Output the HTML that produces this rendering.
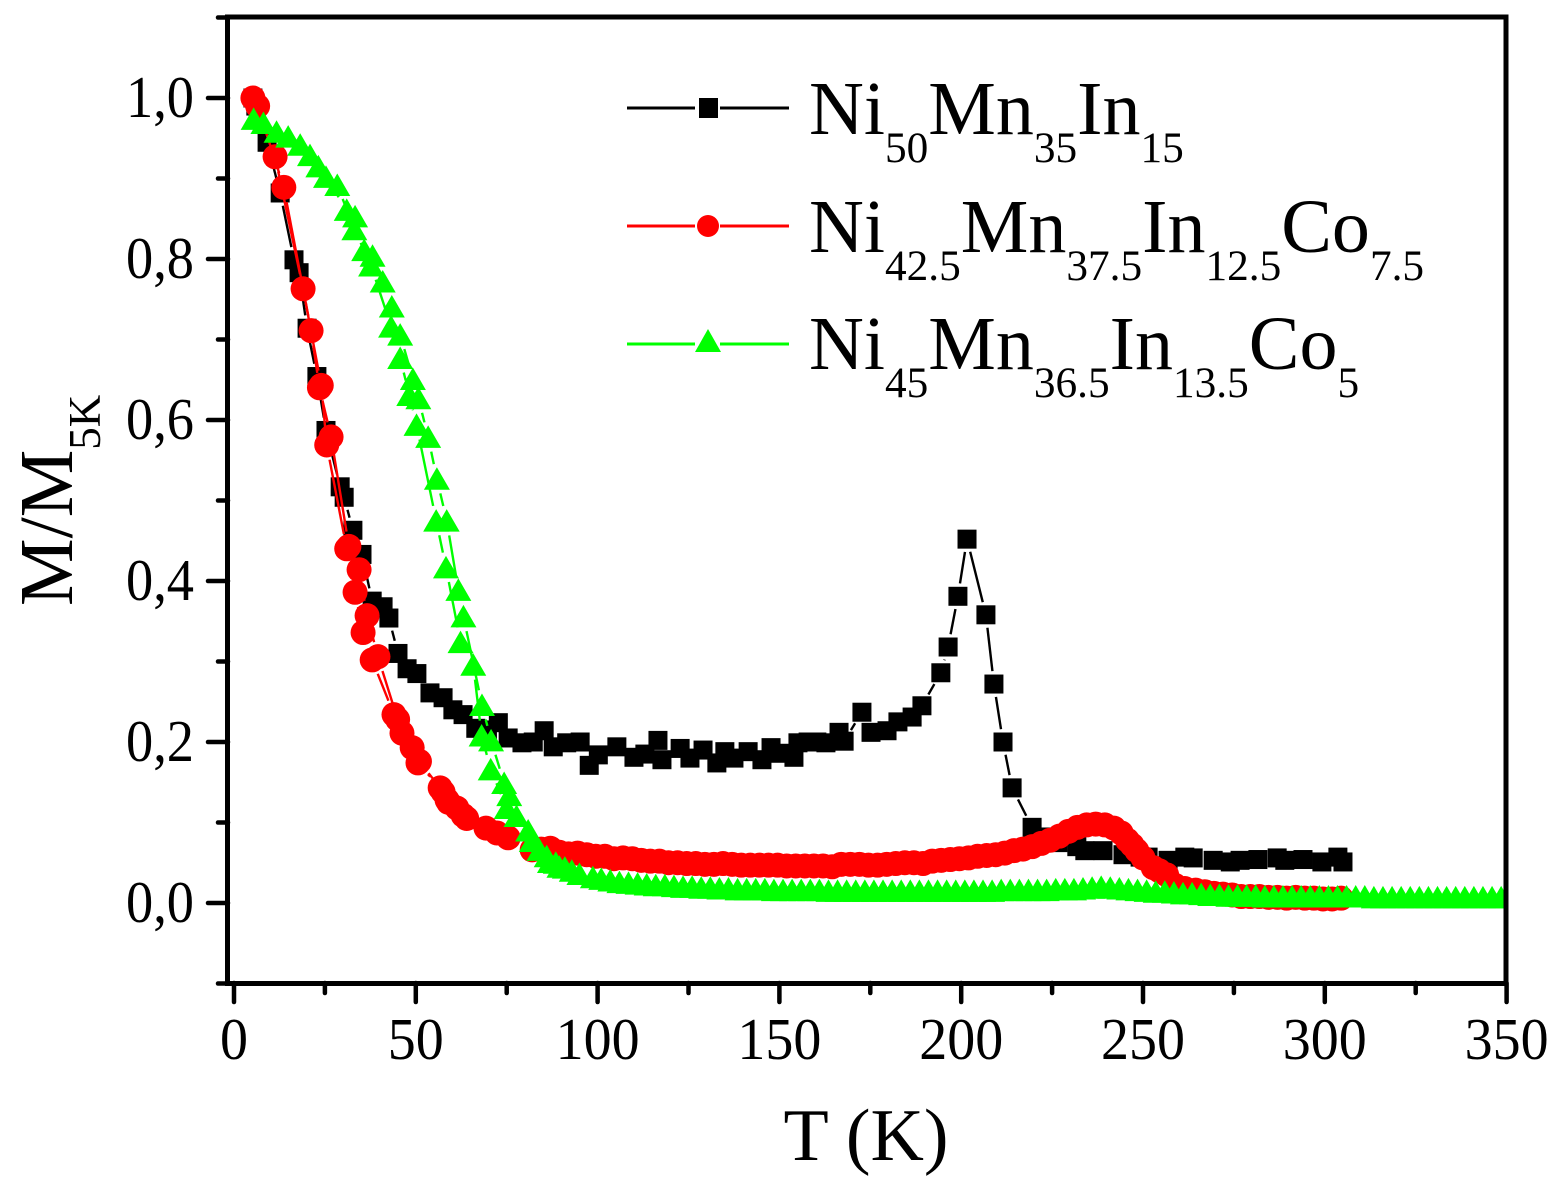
<!DOCTYPE html>
<html lang="en">
<head>
<meta charset="utf-8">
<title>M/M5K vs T</title>
<style>
html,body{margin:0;padding:0;background:#fff;}
svg{display:block;}
text{font-family:"Liberation Serif",serif;fill:#000;}
</style>
</head>
<body>
<svg id="chart" xmlns="http://www.w3.org/2000/svg" width="1561" height="1191" viewBox="0 0 1561 1191">
  <defs><clipPath id="plot-clip"><rect x="228" y="15" width="1279.5" height="968"/></clipPath></defs>
  <g id="series-layer" clip-path="url(#plot-clip)"></g>
  <rect x="227.5" y="17" width="1278.5" height="966.5" fill="none" stroke="#000" stroke-width="5"/>
  <g id="axis-layer"></g>
  <text x="866" y="1160" font-size="74" text-anchor="middle">T (K)</text>
  <text transform="translate(72,606) rotate(-90)" font-size="76">M/M<tspan font-size="45" dy="28">5K</tspan></text>
  <g>
    <g>
      <line x1="627" y1="108" x2="695" y2="108" stroke="#000" stroke-width="3"/>
      <line x1="720" y1="108" x2="789" y2="108" stroke="#000" stroke-width="3"/>
      <rect x="699" y="98" width="19" height="20" fill="#000"/>
      <text x="809" y="134" font-size="76">Ni<tspan font-size="43.3" dy="28">50</tspan><tspan dy="-28">Mn</tspan><tspan font-size="43.3" dy="28">35</tspan><tspan dy="-28">In</tspan><tspan font-size="43.3" dy="28">15</tspan></text>
    </g>
    <g>
      <line x1="627" y1="226" x2="695" y2="226" stroke="#f00" stroke-width="3"/>
      <line x1="720" y1="226" x2="789" y2="226" stroke="#f00" stroke-width="3"/>
      <circle cx="708" cy="226" r="11" fill="#f00"/>
      <text x="809" y="252" font-size="76">Ni<tspan font-size="43.3" dy="28">42.5</tspan><tspan dy="-28">Mn</tspan><tspan font-size="43.3" dy="28">37.5</tspan><tspan dy="-28">In</tspan><tspan font-size="43.3" dy="28">12.5</tspan><tspan dy="-28">Co</tspan><tspan font-size="43.3" dy="28">7.5</tspan></text>
    </g>
    <g>
      <line x1="627" y1="344" x2="695" y2="344" stroke="#0f0" stroke-width="3"/>
      <line x1="720" y1="344" x2="789" y2="344" stroke="#0f0" stroke-width="3"/>
      <polygon points="708,329 721,352 695,352" fill="#0f0"/>
      <text x="809" y="369" font-size="76">Ni<tspan font-size="43.3" dy="28">45</tspan><tspan dy="-28">Mn</tspan><tspan font-size="43.3" dy="28">36.5</tspan><tspan dy="-28">In</tspan><tspan font-size="43.3" dy="28">13.5</tspan><tspan dy="-28">Co</tspan><tspan font-size="43.3" dy="28">5</tspan></text>
    </g>
  </g>
</svg>
<script>
const xTickValues = [0, 50, 100, 150, 200, 250, 300, 350];
const xMinorValues = [25, 75, 125, 175, 225, 275, 325];
const yTickValues = [0, 0.2, 0.4, 0.6, 0.8, 1.0];
const yTickLabels = ["0,0", "0,2", "0,4", "0,6", "0,8", "1,0"];
const yMinorValues = [-0.1, 0.1, 0.3, 0.5, 0.7, 0.9, 1.1];

const blackT = [5.2,6,9.1,12.7,16.5,17.9,20.1,22.8,25.3,29.2,30.3,32.7,35.2,38,41,42.6,45.1,47.6,50.3,53.9,57.5,60.2,63,66.5,69.7,72.7,75.4,79.2,82.3,85.3,87.8,91.5,95.2,97.7,100.2,105.3,110,113,116.6,117.7,122.7,125.4,129,132.8,135,137.5,141.4,145.2,147.7,150.2,154,155.1,157.9,160.3,162.8,166.4,167.8,172.7,175.2,179.6,182.6,186.5,189.2,194.4,196.4,199.1,201.6,206.8,209,211.5,214,219.5,222.5,226.6,231.8,234,239,244.5,249.2,251.4,256.9,261.5,263.8,269.3,274,276.7,281.6,286.9,289,294,299.2,303.6,305];
const blackM = [1.0,0.99,0.945,0.882,0.799,0.783,0.714,0.654,0.587,0.517,0.504,0.463,0.433,0.375,0.368,0.354,0.31,0.291,0.285,0.261,0.255,0.24,0.234,0.217,0.215,0.224,0.205,0.199,0.2,0.214,0.194,0.199,0.2,0.171,0.184,0.194,0.181,0.185,0.202,0.178,0.192,0.18,0.19,0.174,0.188,0.18,0.188,0.178,0.193,0.186,0.181,0.199,0.2,0.2,0.199,0.212,0.201,0.237,0.212,0.214,0.225,0.231,0.245,0.286,0.318,0.381,0.452,0.358,0.272,0.2,0.143,0.094,0.082,0.075,0.07,0.065,0.065,0.06,0.057,0.057,0.053,0.057,0.056,0.053,0.051,0.053,0.054,0.056,0.053,0.054,0.051,0.057,0.051];

const redTA = [5.2,11.3,19,24,25.5,31,33.3,35.5,38,44,46.2,49,50.6,56.7,58.6,61.3,63,69.3,72.3,75.4,82,84.5,87,89.5,92,94.5,97,99.5,102,104.5,107,109.5,112,114.5,117,119.5,122,124.5,127,129.5,132,134.5,137,139.5,142,144.5,147,149.5,152,154.5,157,159.5,162,164.5,167,169.5,172,174.5,177,179.5,182,184.5,187,189.5,192,194.5,197,199.5,202,204.5,207,209.5,212,214.5,217,219.5,222,224.5,227,229.5,232,234.5,237,239.5,242,244,245.7,247,248.3,250,252.8,254.5,256.5,258.8,261.5,264.5,267,269.5,272,274.5,277,279.5,282,284.5,287,289.5,292,294.5,297,299.5,302,304.5];
const redMA = [1.0,0.927,0.763,0.643,0.569,0.44,0.386,0.336,0.302,0.234,0.211,0.193,0.174,0.143,0.128,0.118,0.109,0.093,0.087,0.081,0.066,0.067,0.068,0.063,0.061,0.062,0.06,0.058,0.058,0.055,0.056,0.055,0.053,0.052,0.052,0.05,0.05,0.049,0.049,0.048,0.048,0.049,0.048,0.047,0.047,0.047,0.047,0.047,0.046,0.046,0.046,0.046,0.046,0.045,0.048,0.048,0.048,0.047,0.047,0.048,0.049,0.05,0.05,0.049,0.052,0.053,0.054,0.055,0.056,0.058,0.059,0.06,0.062,0.065,0.067,0.07,0.074,0.078,0.083,0.089,0.094,0.097,0.098,0.097,0.093,0.087,0.078,0.072,0.065,0.056,0.044,0.04,0.035,0.022,0.018,0.016,0.014,0.012,0.011,0.01,0.008,0.008,0.008,0.007,0.007,0.006,0.007,0.006,0.006,0.005,0.005,0.006];
const redTB = [6.5,13.7,21.2,23.5,26.7,31.6,34.4,36.6,39.6,45,51,57.5,59,64];
const redMB = [0.99,0.889,0.711,0.64,0.579,0.443,0.414,0.357,0.306,0.228,0.176,0.138,0.125,0.105];

const greenTA = [5.4,11.7,18.2,23.2,28.4,33.1,37.7,43.2,45.7,48.2,50.2,55.6,58.3,62.3,65.8,68.1,70.6,75,80.9,86.9,89.5,92.9,95,98.7,101,103.5,106,108.5,111,113.5,116,118.5,121,123.5,126,128.5,131,133.5,136,138.5,141,143.5,146,148.5,151,153.5,156,158.5,161,163.5,166,168.5,171,173.5,176,178.5,181,183.5,186,188.5,191,193.5,196,198.5,201,203.5,206,208.5,211,213.5,216,218.5,221,223.5,226,228.5,231,233.5,236,238.5,241,243.5,246,248.5,251,253.5,256,258.5,261,263.5,266,268.5,271,273.5,276,278.5,281,283.5,286,288.5,291,293.5,296,298.5,301,303.5,306,308.5,311,313.5,316,318.5,321,323.5,326,328.5,331,333.5,336,338.5,341,343.5,346,348.5];
const greenMA = [0.974,0.958,0.942,0.915,0.892,0.837,0.792,0.716,0.677,0.631,0.594,0.475,0.417,0.324,0.296,0.208,0.166,0.118,0.09,0.051,0.045,0.04,0.036,0.032,0.03,0.028,0.026,0.025,0.024,0.023,0.022,0.022,0.021,0.02,0.02,0.019,0.019,0.018,0.018,0.017,0.017,0.017,0.017,0.016,0.016,0.016,0.016,0.016,0.016,0.015,0.015,0.015,0.015,0.015,0.015,0.015,0.015,0.015,0.015,0.015,0.015,0.015,0.015,0.015,0.015,0.015,0.015,0.015,0.016,0.016,0.016,0.016,0.016,0.016,0.017,0.017,0.017,0.018,0.019,0.02,0.019,0.018,0.017,0.016,0.015,0.014,0.014,0.013,0.012,0.012,0.011,0.01,0.01,0.009,0.009,0.009,0.009,0.008,0.008,0.008,0.008,0.008,0.008,0.008,0.008,0.008,0.008,0.008,0.008,0.007,0.007,0.007,0.007,0.007,0.007,0.007,0.007,0.007,0.007,0.007,0.007,0.007,0.007,0.007];
const greenTB = [8.1,14.9,20.9,25.3,31,33.3,35.8,38.1,40.9,43.4,45.7,49.2,50.7,53.4,55.8,58.5,61.7,63.1,68.2,70.7,74.3,75.7,77.7,81.9,84,86,88.5,91];
const greenMB = [0.969,0.952,0.929,0.902,0.861,0.853,0.811,0.804,0.772,0.741,0.706,0.651,0.627,0.579,0.527,0.475,0.389,0.356,0.246,0.202,0.149,0.134,0.108,0.077,0.066,0.058,0.05,0.044];

const NS = "http://www.w3.org/2000/svg";
const xScale = function (t) { return 234 + t * 3.636; };
const yScale = function (m) { return 903 - m * 805; };
const seriesLayer = document.getElementById("series-layer");
const axisLayer = document.getElementById("axis-layer");

function drawConnectors(parent, ts, ms, color, trim) {
  for (let i = 0; i + 1 < ts.length; i++) {
    const x1 = xScale(ts[i]), y1 = yScale(ms[i]), x2 = xScale(ts[i + 1]), y2 = yScale(ms[i + 1]);
    const d = Math.hypot(x2 - x1, y2 - y1);
    if (d <= trim * 2) continue;
    const ux = (x2 - x1) / d, uy = (y2 - y1) / d;
    const seg = document.createElementNS(NS, "line");
    
    
    seg.setAttribute("x1", x1 + ux * trim);
    seg.setAttribute("y1", y1 + uy * trim);
    seg.setAttribute("x2", x2 - ux * trim);
    seg.setAttribute("y2", y2 - uy * trim);
    seg.setAttribute("stroke", color);
    seg.setAttribute("stroke-width", "2.4");
    parent.appendChild(seg);
  }
}

function drawSquares(parent, ts, ms) {
  for (let i = 0; i < ts.length; i++) {
    const mark = document.createElementNS(NS, "rect");
    
    
    mark.setAttribute("x", xScale(ts[i]) - 9.5);
    mark.setAttribute("y", yScale(ms[i]) - 9.5);
    mark.setAttribute("width", 19);
    mark.setAttribute("height", 19);
    mark.setAttribute("fill", "#000");
    parent.appendChild(mark);
  }
}

function drawCircles(parent, ts, ms) {
  for (let i = 0; i < ts.length; i++) {
    const mark = document.createElementNS(NS, "circle");
    
    
    mark.setAttribute("cx", xScale(ts[i]));
    mark.setAttribute("cy", yScale(ms[i]));
    mark.setAttribute("r", 12.5);
    mark.setAttribute("fill", "#f00");
    parent.appendChild(mark);
  }
}

function drawTriangles(parent, ts, ms) {
  for (let i = 0; i < ts.length; i++) {
    const cx = xScale(ts[i]), cy = yScale(ms[i]);
    const mark = document.createElementNS(NS, "polygon");
    
    
    mark.setAttribute("points", cx + "," + (cy - 11.5) + " " + (cx + 13) + "," + (cy + 11) + " " + (cx - 13) + "," + (cy + 11));
    mark.setAttribute("fill", "#0f0");
    parent.appendChild(mark);
  }
}

function makeSeriesGroup(name) {
  const g = document.createElementNS(NS, "g");
  
  
  seriesLayer.appendChild(g);
  return g;
}

const blackGroup = makeSeriesGroup("series-ni50-mn35-in15");
drawConnectors(blackGroup, blackT, blackM, "#000", 13);
drawSquares(blackGroup, blackT, blackM);

const redGroup = makeSeriesGroup("series-ni42-mn37-in12-co7");
drawConnectors(redGroup, redTA, redMA, "#f00", 15);
drawConnectors(redGroup, redTB, redMB, "#f00", 15);
drawCircles(redGroup, redTA, redMA);
drawCircles(redGroup, redTB, redMB);

const greenGroup = makeSeriesGroup("series-ni45-mn36-in13-co5");
drawConnectors(greenGroup, greenTA, greenMA, "#0f0", 15);
drawConnectors(greenGroup, greenTB, greenMB, "#0f0", 15);
drawTriangles(greenGroup, greenTA, greenMA);
drawTriangles(greenGroup, greenTB, greenMB);

function drawTick(x1, y1, x2, y2, name) {
  const tick = document.createElementNS(NS, "line");
  
  
  tick.setAttribute("x1", x1);
  tick.setAttribute("y1", y1);
  tick.setAttribute("x2", x2);
  tick.setAttribute("y2", y2);
  tick.setAttribute("stroke", "#000");
  tick.setAttribute("stroke-width", "4.5");
  tick.setAttribute("stroke-linecap", "round");
  axisLayer.appendChild(tick);
}

function drawLabel(x, y, anchor, content, name, fitWidth) {
  const label = document.createElementNS(NS, "text");
  
  
  label.setAttribute("x", x);
  label.setAttribute("y", y);
  label.setAttribute("text-anchor", anchor);
  label.setAttribute("font-size", "59");
  label.setAttribute("textLength", fitWidth);
  label.setAttribute("lengthAdjust", "spacingAndGlyphs");
  label.textContent = content;
  axisLayer.appendChild(label);
}

xTickValues.forEach(function (v) {
  drawTick(xScale(v), 983, xScale(v), 1002, "x-major-tick");
  drawLabel(xScale(v), 1059, "middle", String(v), "x-tick-label", String(v).length * 28);
});
xMinorValues.forEach(function (v) {
  drawTick(xScale(v), 983, xScale(v), 993, "x-minor-tick");
});
yTickValues.forEach(function (v, i) {
  drawTick(208, yScale(v), 228, yScale(v), "y-major-tick");
  drawLabel(194, yScale(v) + 19, "end", yTickLabels[i], "y-tick-label", 68);
});
yMinorValues.forEach(function (v) {
  drawTick(218, yScale(v), 228, yScale(v), "y-minor-tick");
});
</script>
</body>
</html>
